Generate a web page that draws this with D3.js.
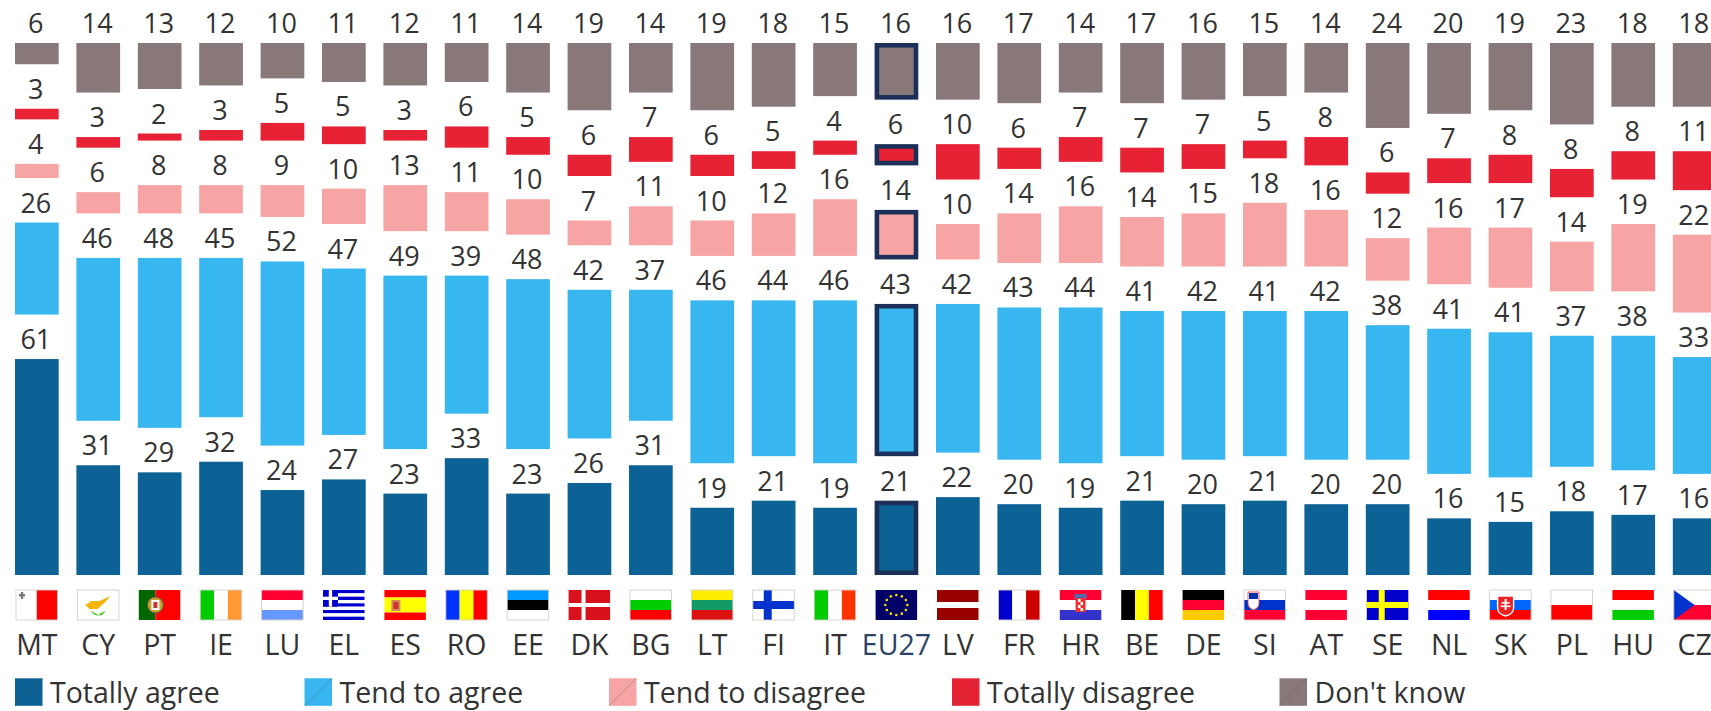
<!DOCTYPE html>
<html>
<head>
<meta charset="utf-8">
<script src="https://cdn.jsdelivr.net/npm/d3@7"></script>
<style>
  html, body { margin: 0; padding: 0; background: #fff; overflow: hidden; }
  text { font-family: "Open Sans", "Noto Sans", sans-serif; fill: #333; }
</style>
</head>
<body>
<div id="wrapper"></div>
<script>
const countries = ["MT","CY","PT","IE","LU","EL","ES","RO","EE","DK","BG","LT","FI","IT","EU27","LV","FR","HR","BE","DE","SI","AT","SE","NL","SK","PL","HU","CZ"]
const totallyAgree = [61,31,29,32,24,27,23,33,23,26,31,19,21,19,21,22,20,19,21,20,21,20,20,16,15,18,17,16]
const tendToAgree = [26,46,48,45,52,47,49,39,48,42,37,46,44,46,43,42,43,44,41,42,41,42,38,41,41,37,38,33]
const tendToDisagree = [4,6,8,8,9,10,13,11,10,7,11,10,12,16,14,10,14,16,14,15,18,16,12,16,17,14,19,22]
const totallyDisagree = [3,3,2,3,5,5,3,6,5,6,7,6,5,4,6,10,6,7,7,7,5,8,6,7,8,8,8,11]
const dontKnow = [6,14,13,12,10,11,12,11,14,19,14,19,18,15,16,16,17,14,17,16,15,14,24,20,19,23,18,18]

const seriesNames = ["Totally agree","Tend to agree","Tend to disagree","Totally disagree","Don't know"]
const seriesColors = ["#0c6294","#38b6f0","#f6a5a4","#e72234","#89787a"]
const seriesValues = [totallyAgree, tendToAgree, tendToDisagree, totallyDisagree, dontKnow]

// flag stripes: direction, then [colour, weight]
const flagStripes = {
  MT:["v",[["#fff",1],["#f00",1]]], CY:["v",[["#fff",1]]], PT:["v",[["#060",2],["#f00",3]]], IE:["v",[["#0c0",1],["#fff",1],["#f93",1]]],
  LU:["h",[["#f03",1],["#fff",1],["#69f",1]]], EL:["h",[["#00c",1],["#fff",1],["#00c",1],["#fff",1],["#00c",1],["#fff",1],["#00c",1],["#fff",1],["#00c",1]]],
  ES:["h",[["#f00",1],["#ff0",2],["#f00",1]]], RO:["v",[["#03f",1],["#ff0",1],["#f00",1]]], EE:["h",[["#09f",1],["#000",1],["#fff",1]]],
  DK:["h",[["#d8111c",1]]], BG:["h",[["#fff",1],["#0c0",1],["#f00",1]]], LT:["h",[["#fe0",1],["#196",1],["#d11",1]]], FI:["h",[["#fff",1]]],
  IT:["v",[["#0c0",1],["#fff",1],["#f30",1]]], EU27:["h",[["#006",1]]], LV:["h",[["#900",2],["#fff",1],["#900",2]]],
  FR:["v",[["#00c",1],["#fff",1],["#c00",1]]], HR:["h",[["#f03",1],["#fff",1],["#33c",1]]], BE:["v",[["#000",1],["#ff0",1],["#f00",1]]],
  DE:["h",[["#000",1],["#f03",1],["#fc0",1]]], SI:["h",[["#fff",1],["#03c",1],["#f03",1]]], AT:["h",[["#f03",1],["#fff",1],["#f03",1]]],
  SE:["h",[["#00c",1]]], NL:["h",[["#f00",1],["#fff",1],["#00f",1]]], SK:["h",[["#fff",1],["#06f",1],["#f00",1]]], PL:["h",[["#fff",1],["#f00",1]]],
  HU:["h",[["#f00",1],["#fff",1],["#0c0",1]]], CZ:["h",[["#fff",1],["#f03",1]]]
}
const flagsWithoutBorder = ["PT","EL","ES","DK","EU27","LV","HR","BE","DE","AT","SE","NL","HU"]

const width = 1711
const height = 711
const baseline = 575
const pxPerUnit = 3.54
const gap = 44.5
const columnStep = 61.4
const barWidth = 43.7

const svg = d3.select("#wrapper").append("svg")
    .attr("width", width)
    .attr("height", height)

const paddingInner = 1 - barWidth / columnStep
const xScale = d3.scaleBand()
    .domain(countries)
    .range([15, 15 + columnStep * (countries.length - paddingInner)])
    .paddingInner(paddingInner)
    .paddingOuter(0)
    .align(0)

const lengthScale = d3.scaleLinear().domain([0, 100]).range([0, pxPerUnit * 100])

// stacked columns, each segment floats above the last with a fixed gap for its label
countries.forEach((c, i) => {
  let bottom = baseline
  const col = svg.append("g").attr("class", "column")
  const isEU = c === "EU27"
  seriesValues.forEach((values, s) => {
    const h = lengthScale(values[i])
    const top = bottom - h
    const inset = isEU ? 2.3 : 0
    col.append("rect")
      .attr("x", xScale(c) + inset)
      .attr("y", top + inset)
      .attr("width", xScale.bandwidth() - inset * 2)
      .attr("height", h - inset * 2)
      .attr("fill", seriesColors[s])
      .attr("stroke", isEU ? "#1b2f59" : "none")
      .attr("stroke-width", isEU ? 4.6 : 0)
    col.append("text")
      .attr("x", xScale(c) + xScale.bandwidth() / 2 - 1)
      .attr("y", top - 10)
      .attr("text-anchor", "middle")
      .style("font-size", "27px")
      .text(values[i])
    bottom = top - gap
  })
})

// flags
const flagH = 30
const flagW = 41.5

function drawEmblem(g, c) {
  const w = flagW, h = flagH
  const rect = (x, y, rw, rh, fill) => g.append("rect").attr("x", x).attr("y", y).attr("width", rw).attr("height", rh).attr("fill", fill)
  const cross = (color, armW) => {
    rect(0, (h - armW) / 2, w, armW, color)
    rect(w * 0.36 - armW / 2, 0, armW, h, color)
  }
  if (c === "MT") {
    rect(3, 4, 6, 2.4, "#777"); rect(4.8, 2, 2.4, 7, "#777")
  } else if (c === "CY") {
    g.append("path").attr("d", `M8 15 L14 11 L22 11 L33 6 L27 13 L20 19 L12 19 Z`).attr("fill", "#f5b60c")
    g.append("path").attr("d", `M13 21 Q18 27 21 25 Q25 27 28 21 Q22 23 21 25 Q19 23 13 21 Z`).attr("fill", "#6c4")
  } else if (c === "PT") {
    g.append("circle").attr("cx", w * 0.4).attr("cy", h / 2).attr("r", 8).attr("fill", "#c9a227").attr("stroke", "#555").attr("stroke-width", 1)
    rect(w * 0.4 - 4, h / 2 - 5, 8, 10, "#fff")
    rect(w * 0.4 - 2, h / 2 - 3, 4, 6, "#c33")
  } else if (c === "EL") {
    rect(0, 0, 15, 16.7, "#00c")
    rect(0, 6.7, 15, 3.3, "#fff")
    rect(5.8, 0, 3.3, 16.7, "#fff")
  } else if (c === "ES") {
    rect(7, 10, 9, 11, "#d98a5a")
    rect(9, 12, 5, 7, "#c33")
  } else if (c === "DK") {
    cross("#fff", 4)
  } else if (c === "FI") {
    cross("#03c", 8)
  } else if (c === "SE") {
    cross("#ff0", 6)
  } else if (c === "EU27") {
    d3.range(12).forEach(k => {
      const a = k * Math.PI / 6
      g.append("circle").attr("cx", w / 2 + 11 * Math.sin(a)).attr("cy", h / 2 - 10 * Math.cos(a)).attr("r", 1.3).attr("fill", "#fd0")
    })
  } else if (c === "HR") {
    rect(w / 2 - 6, 4, 12, 5, "#56a")
    rect(w / 2 - 5, 8, 10, 14, "#e33")
    rect(w / 2 - 2.5, 9, 2.5, 3, "#fff"); rect(w / 2, 12, 2.5, 3, "#fff")
    rect(w / 2 - 2.5, 15, 2.5, 3, "#fff"); rect(w / 2, 18, 2.5, 3, "#fff")
  } else if (c === "SI") {
    g.append("path").attr("d", "M4 2 H15 V14 Q15 18 9.5 20 Q4 18 4 14 Z").attr("fill", "#fff").attr("stroke", "#e33").attr("stroke-width", 0.8)
    g.append("path").attr("d", "M5 3 H14 V9 H5 Z").attr("fill", "#03a")
  } else if (c === "SK") {
    g.append("path").attr("d", "M8 6 H24 V18 Q24 24 16 26 Q8 24 8 18 Z").attr("fill", "#e22").attr("stroke", "#fff").attr("stroke-width", 1.4)
    rect(15, 9, 2, 11, "#fff"); rect(12, 12, 8, 1.6, "#fff"); rect(11, 15.5, 10, 1.6, "#fff")
  } else if (c === "CZ") {
    g.append("path").attr("d", `M0 0 L${w * 0.5} ${h / 2} L0 ${h} Z`).attr("fill", "#03c")
  }
}

countries.forEach(c => {
  const x0 = xScale(c) + 1
  const g = svg.append("g").attr("class", "flag").attr("transform", `translate(${x0},590)`)
  const [dir, stripes] = flagStripes[c]
  const total = d3.sum(stripes, d => d[1])
  const extent = dir === "h" ? flagH : flagW
  let pos = 0
  stripes.forEach(([color, weight]) => {
    const size = extent * weight / total
    g.append("rect")
      .attr("x", dir === "h" ? 0 : pos)
      .attr("y", dir === "h" ? pos : 0)
      .attr("width", dir === "h" ? flagW : size)
      .attr("height", dir === "h" ? size : flagH)
      .attr("fill", color)
    pos += size
  })
  drawEmblem(g, c)
  if (!flagsWithoutBorder.includes(c)) {
    g.append("rect").attr("width", flagW).attr("height", flagH).attr("fill", "none").attr("stroke", "#d8cfca").attr("stroke-width", 0.9)
  }
  svg.append("text")
    .attr("x", xScale(c) + xScale.bandwidth() / 2)
    .attr("y", 654.5)
    .attr("text-anchor", "middle")
    .style("font-size", "28.5px")
    .style("fill", c === "EU27" ? "#2b4468" : "#333")
    .text(c)
})

// legend
const legendX = [15, 304.5, 609, 952, 1279.5]
const swatchSize = 27.5
seriesNames.forEach((name, i) => {
  const g = svg.append("g").attr("class", "legend-item")
  g.append("rect").attr("x", legendX[i]).attr("y", 678.3).attr("width", swatchSize).attr("height", swatchSize).attr("fill", seriesColors[i])
  g.append("line")
    .attr("x1", legendX[i]).attr("y1", 678.3 + swatchSize)
    .attr("x2", legendX[i] + swatchSize).attr("y2", 678.3)
    .attr("stroke", "#555").attr("stroke-opacity", 0.55).attr("stroke-width", 0.7)
  g.append("text").attr("x", legendX[i] + 35).attr("y", 703).style("font-size", "28.5px").text(name)
})
</script>
</body>
</html>
